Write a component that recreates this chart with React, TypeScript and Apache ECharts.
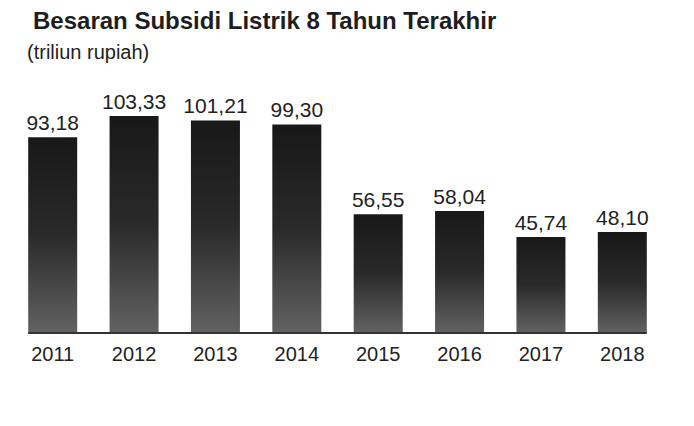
import React, { useEffect, useRef } from "react";
import * as echarts from "echarts";

const titleText = "Besaran Subsidi Listrik 8 Tahun Terakhir";
const subtitleText = "(triliun rupiah)";
const years = ["2011", "2012", "2013", "2014", "2015", "2016", "2017", "2018"];
const subsidi = [93.18, 103.33, 101.21, 99.3, 56.55, 58.04, 45.74, 48.1];

const fmt = (v: number) => v.toFixed(2).replace(".", ",");
const FONT = "'Liberation Sans', Arial, sans-serif";

export default function App() {
  const ref = useRef<HTMLDivElement>(null);
  useEffect(() => {
    if (!ref.current) return;
    const chart = echarts.init(ref.current, null, { renderer: "svg" });
    chart.setOption({
      animation: false,
      backgroundColor: "#ffffff",
      title: [
        {
          text: titleText,
          left: 28,
          top: 3,
          textStyle: { fontFamily: FONT, fontWeight: "bold", fontSize: 24, color: "#1e1e1e" },
        },
        {
          text: subtitleText,
          left: 22,
          top: 37,
          textStyle: { fontFamily: FONT, fontWeight: "normal", fontSize: 20, color: "#222" },
        },
      ],
      grid: { left: 12, right: 31, top: 102, bottom: 93 },
      xAxis: {
        type: "category",
        data: years,
        axisLine: { show: false },
        axisTick: { show: false },
        axisLabel: { fontFamily: FONT, fontSize: 20, color: "#222", margin: 11 },
      },
      yAxis: {
        type: "value",
        min: 0,
        max: 110,
        show: false,
        splitLine: { show: false },
      },
      series: [
        {
          type: "bar",
          data: subsidi,
          barWidth: 49,
          itemStyle: {
            color: new echarts.graphic.LinearGradient(0, 0, 0, 1, [
              { offset: 0, color: "#181818" },
              { offset: 0.5, color: "#2a2a2a" },
              { offset: 1, color: "#626262" },
            ]),
          },
          label: {
            show: true,
            position: "top",
            distance: 4,
            fontFamily: FONT,
            fontSize: 21,
            color: "#222",
            formatter: (p: any) => fmt(p.value),
          },
        },
      ],
    });
    const first = chart.convertToPixel({ gridIndex: 0 }, [0, 0]) as number[];
    const last = chart.convertToPixel({ gridIndex: 0 }, [years.length - 1, 0]) as number[];
    const half = 49 / 2;
    chart.setOption({
      graphic: [
        {
          type: "line",
          shape: { x1: first[0] - half, y1: first[1], x2: last[0] + half, y2: last[1] },
          style: { stroke: "#333", lineWidth: 2 },
          z: 10,
        },
      ],
    });
    return () => chart.dispose();
  }, []);
  return <div ref={ref} style={{ width: 694, height: 426, position: "fixed", left: 0, top: 0 }} />;
}
